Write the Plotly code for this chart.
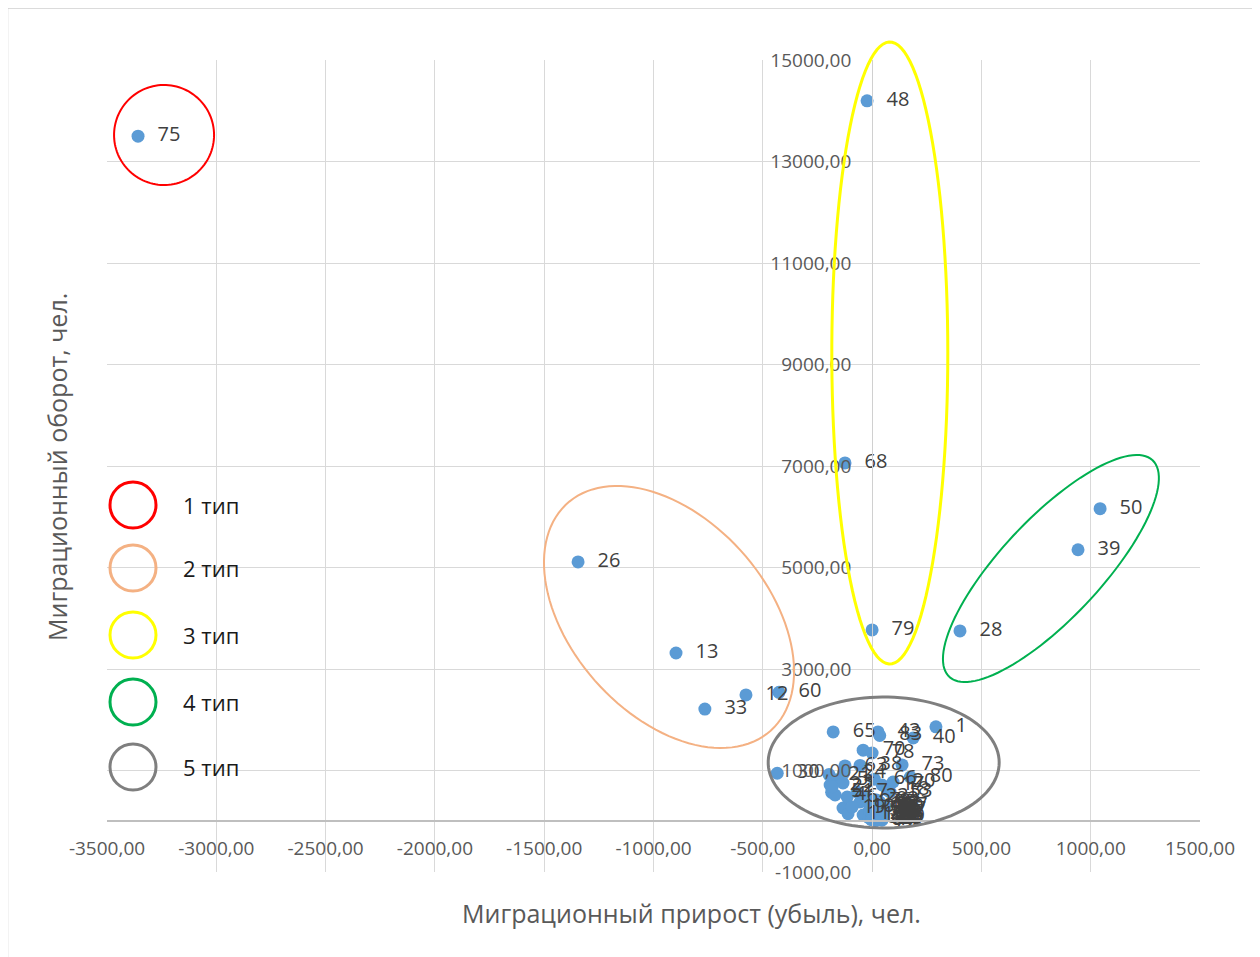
"""
Типология регионов по миграционному приросту и обороту
"""

import numpy as np
import plotly.graph_objects as go

# --- данные (номер региона, прирост/убыль, оборот) ---
region_ids = [
    75, 48, 68, 79, 50, 39, 28, 26, 13, 12, 33, 60,
    1, 40, 43, 83, 65, 70, 78, 63, 38, 73, 80, 66, 5, 30, 51, 19, 11, 53, 67,
    2, 3, 4, 6, 7, 9, 10, 14, 15, 16, 17, 18, 20, 21, 22, 23, 24,
    25, 27, 29, 31, 32, 34, 35, 36, 37, 41, 42, 44, 45, 46, 47, 49, 52,
    54, 55, 56, 57, 58, 59, 61, 62, 64, 69, 71, 72, 74, 76, 77, 81, 82,
]
migr_growth = [
    -3358, -23, -124, 0, 1043, 942, 402, -1345, -897, -577, -765, -426,
    292, 188, 27, 35, -178, -41, 0, -124, -55, 137, 175, 10, -160, -434, -185, -133, -110, 82, 60,
    -192, -133, -169, -114, -69, -55, -91, -9, -41, 23, 46, 69, 96, -197, -183, -27, -130,
    5, 12, -8, 20, 30, 2, 40, -15, 25, 8, 45, 15, 35, -5, 50, 18, 28,
    -12, 10, 38, 22, 0, 48, 14, 32, -3, 42, 6, 26, 16, -10, 55, 34, 20,
]
migr_turnover = [
    13500, 14195, 7060, 3770, 6160, 5350, 3750, 5110, 3315, 2490, 2210, 2540,
    1860, 1640, 1760, 1690, 1760, 1400, 1345, 1090, 1100, 1110, 870, 830, 820, 946, 570, 261, 150, 576, 296,
    714, 754, 517, 478, 576, 379, 281, 320, 123, 163, 714, 616, 773, 920, 680, 478, 950,
    40, 95, 150, 210, 60, 260, 130, 70, 330, 180, 20, 15, 240, 300, 160, 120, 100,
    220, 360, 50, 270, 110, 90, 55, 190, 30, 280, 230, 150, 10, 400, 230, 380, 420,
]

type_names = ['1 тип', '2 тип', '3 тип', '4 тип', '5 тип']
type_colors = ['#FF0000', '#F4B183', '#FFFF00', '#00B050', '#7F7F7F']

X_RANGE = [-3500, 1500]
Y_RANGE = [-1000, 15000]
X_DTICK = 500
Y_DTICK = 2000

# страница добавляет отступ body 8px — компенсируем
PAGE_OFF = 8
W, H = 1260, 957
PLOT_L, PLOT_R, PLOT_T, PLOT_B = 107, 1200, 60, 872   # область построения в пикселях картинки
plot_w = PLOT_R - PLOT_L
plot_h = PLOT_B - PLOT_T

FONT = 'Open Sans'


def fmt(v):
    return f'{v:.2f}'.replace('.', ',')


def data_to_paper(x, y):
    xp = (np.asarray(x, dtype=float) - X_RANGE[0]) / (X_RANGE[1] - X_RANGE[0])
    yp = (np.asarray(y, dtype=float) - Y_RANGE[0]) / (Y_RANGE[1] - Y_RANGE[0])
    return xp, yp


def px_to_paper(px, py):
    return (px - PLOT_L) / plot_w, (PLOT_B - py) / plot_h


def ellipse_path(cx, cy, a_px, b_px, angle_deg):
    """Контур эллипса: центр в данных, полуоси в пикселях, угол на экране"""
    t = np.linspace(0, 2 * np.pi, 120)
    th = np.radians(angle_deg)
    dx = a_px * np.cos(t) * np.cos(th) - b_px * np.sin(t) * np.sin(th)
    dy = a_px * np.cos(t) * np.sin(th) + b_px * np.sin(t) * np.cos(th)
    pcx, pcy = data_to_paper(cx, cy)
    xs = pcx + dx / plot_w
    ys = pcy - dy / plot_h
    pts = [f'{x:.5f},{y:.5f}' for x, y in zip(xs, ys)]
    return 'M ' + ' L '.join(pts) + ' Z'


fig = go.Figure()

fig.add_trace(go.Scatter(
    x=migr_growth,
    y=migr_turnover,
    mode='markers+text',
    text=['\u00a0\u00a0' + str(r) for r in region_ids],
    textposition='middle right',
    textfont=dict(family=FONT, size=20, color='#404040'),
    marker=dict(color='#5B9BD5', size=13),
    cliponaxis=False,
    showlegend=False,
    hoverinfo='x+y+text',
))

# выделение типов регионов (в координатах paper, чтобы не обрезались)
shapes = []
ellipses = [
    # центр X, центр Y, полуось a, полуось b (px), угол, толщина
    (-3239, 13522, 50, 50, 0, 2),
    (-929, 4025, 152.5, 97.7, 48.2, 2),
    (81, 9227, 58, 311, 0, 3),
    (818, 4980, 148.5, 49.9, -46.8, 2),
    (53, 1158, 115.5, 65.5, 0, 3),
]
for (cx, cy, a, b, ang, lw), color in zip(ellipses, type_colors):
    shapes.append(dict(type='path', xref='paper', yref='paper',
                       path=ellipse_path(cx, cy, a, b, ang),
                       line=dict(color=color, width=lw)))

# рамка области диаграммы
bx0, by1 = px_to_paper(7.5, 8)
bx1, by0 = px_to_paper(W + 20, H + 20)
shapes.append(dict(type='rect', xref='paper', yref='paper',
                   x0=bx0, x1=bx1, y0=by0, y1=by1,
                   line=dict(color='#CFCFCF', width=1.5), layer='below'))

# самодельная легенда
annotations = []
legend_y_px = [505, 568, 635, 702, 767]
r_leg = 23
for name, color, ly in zip(type_names, type_colors, legend_y_px):
    x0, y0 = px_to_paper(133 - r_leg, ly + r_leg)
    x1, y1 = px_to_paper(133 + r_leg, ly - r_leg)
    shapes.append(dict(type='circle', xref='paper', yref='paper',
                       x0=x0, x1=x1, y0=y0, y1=y1,
                       line=dict(color=color, width=3)))
    tx, ty = px_to_paper(181, ly)
    annotations.append(dict(x=tx, y=ty, xref='paper', yref='paper',
                            text=name, showarrow=False,
                            xanchor='left', yanchor='middle',
                            font=dict(family=FONT, size=22, color='#1a1a1a')))

# подписи осей
ax_x, ax_y = px_to_paper(691, 913)
annotations.append(dict(x=ax_x, y=ax_y, xref='paper', yref='paper',
                        text='Миграционный прирост (убыль), чел.',
                        showarrow=False, xanchor='center', yanchor='middle',
                        font=dict(family=FONT, size=25, color='#595959')))
ay_x, ay_y = px_to_paper(57, 467)
annotations.append(dict(x=ay_x, y=ay_y, xref='paper', yref='paper',
                        text='Миграционный оборот, чел.', textangle=-90,
                        showarrow=False, xanchor='center', yanchor='middle',
                        font=dict(family=FONT, size=25, color='#595959')))

# оси пересекаются в нуле
x_axis_pos = float(data_to_paper(0, 0)[1])
y_axis_pos = float(data_to_paper(0, 0)[0])

x_ticks = list(range(X_RANGE[0], X_RANGE[1] + 1, X_DTICK))
y_ticks = list(range(Y_RANGE[0], Y_RANGE[1] + 1, Y_DTICK))

fig.update_layout(
    width=W - PAGE_OFF, height=H - PAGE_OFF,
    margin=dict(l=PLOT_L - PAGE_OFF, r=W - PLOT_R, t=PLOT_T - PAGE_OFF,
                b=H - PLOT_B, pad=0),
    plot_bgcolor='white',
    paper_bgcolor='white',
    shapes=shapes,
    annotations=annotations,
    xaxis=dict(
        range=X_RANGE, tickvals=x_ticks, ticktext=[fmt(v) for v in x_ticks],
        showgrid=True, gridcolor='#D9D9D9', gridwidth=1,
        zeroline=False, showline=True, linecolor='#BFBFBF', linewidth=1.5,
        anchor='free', position=x_axis_pos,
        ticks='', ticklabelstandoff=10,
        tickfont=dict(family=FONT, size=19, color='#595959'),
    ),
    yaxis=dict(
        range=Y_RANGE, tickvals=y_ticks, ticktext=[fmt(v) for v in y_ticks],
        showgrid=True, gridcolor='#D9D9D9', gridwidth=1,
        zeroline=False, showline=True, linecolor='#D0D0D0', linewidth=1,
        anchor='free', position=y_axis_pos, side='left',
        ticks='', ticklabelstandoff=17,
        tickfont=dict(family=FONT, size=19, color='#595959'),
    ),
)

fig.write_html("out.html")
